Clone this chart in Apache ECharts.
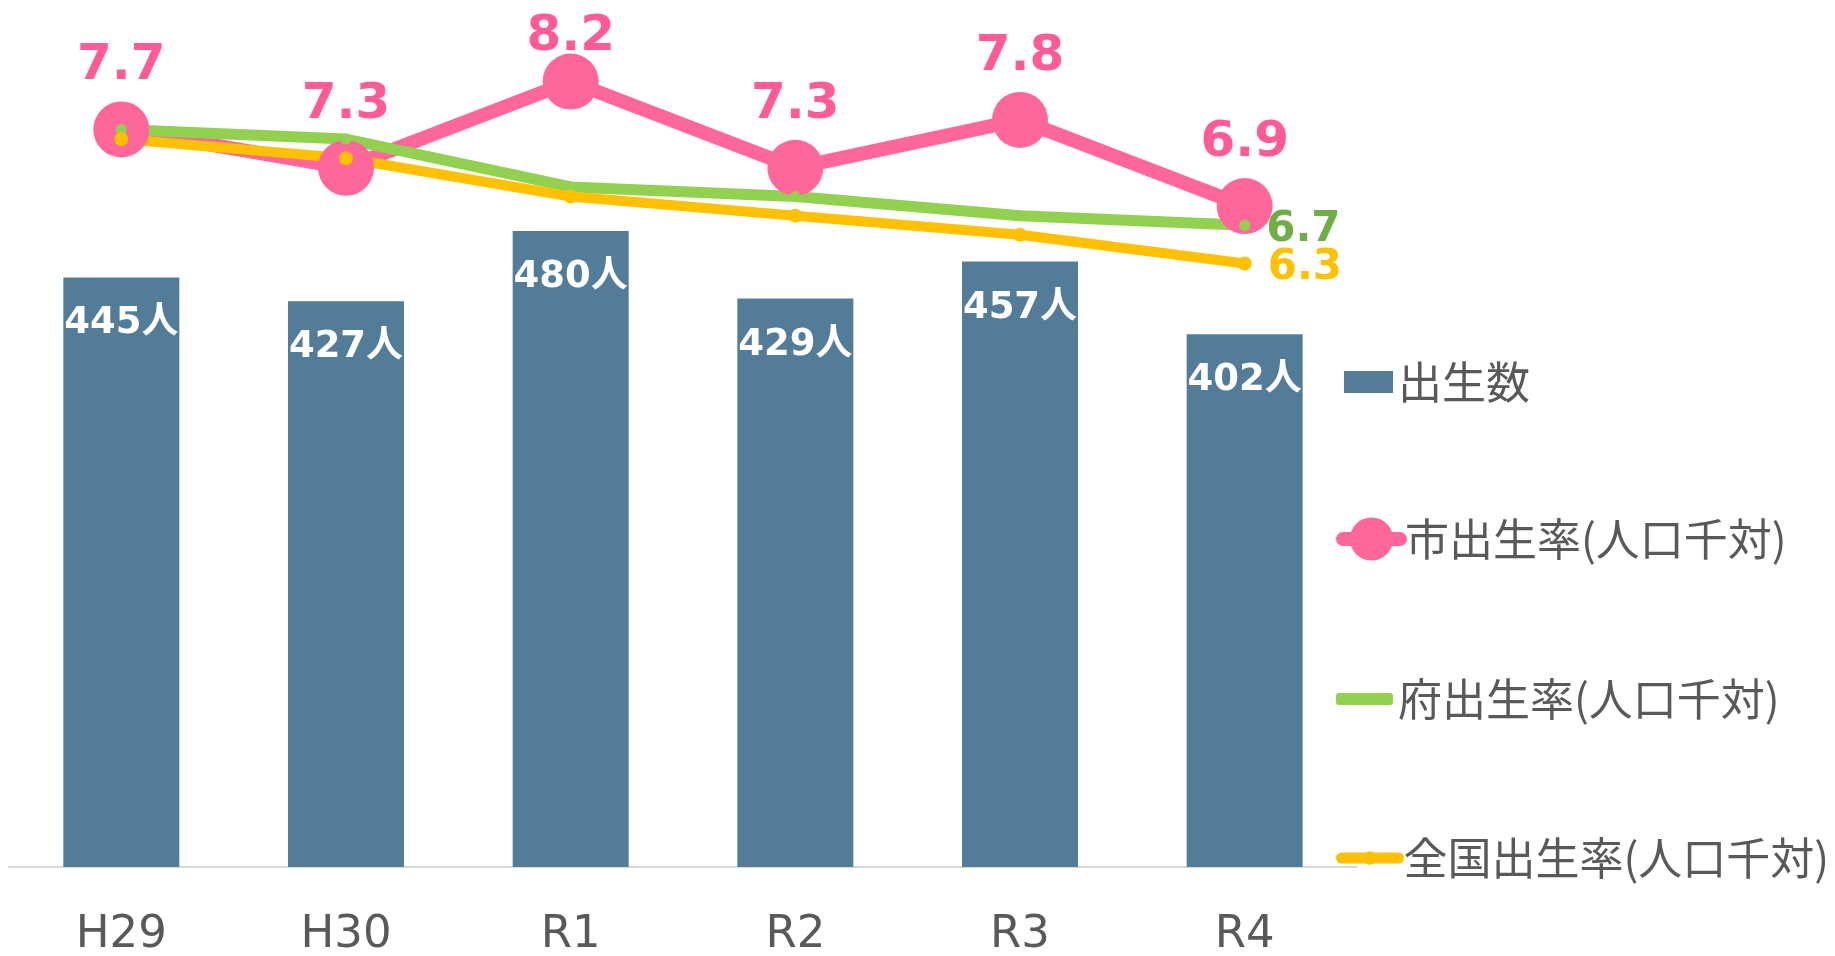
<!DOCTYPE html>
<html>
<head>
<meta charset="utf-8">
<script src="https://cdn.jsdelivr.net/npm/echarts@6/dist/echarts.min.js"></script>
<style>
  html, body { margin: 0; padding: 0; background: #fff; }
  #chart { width: 1835px; height: 956px; }
</style>
</head>
<body>
<div id="chart"></div>
<script>
  // 年度
  const years = ['H29', 'H30', 'R1', 'R2', 'R3', 'R4']
  // 出生数（人）
  const births = [445, 427, 480, 429, 457, 402]
  // 出生率（人口千対）
  const cityRate = [7.7, 7.3, 8.2, 7.3, 7.8, 6.9]
  const prefRate = [7.7, 7.6, 7.1, 7.0, 6.8, 6.7]
  const nationRate = [7.6, 7.4, 7.0, 6.8, 6.6, 6.3]

  const names = ['出生数', '市出生率(人口千対)', '府出生率(人口千対)', '全国出生率(人口千対)']
  const colors = ['#527C98', '#FF6699', '#92D050', '#FFC000']

  const numFont = 'DejaVu Sans, Verdana, Noto Sans CJK JP, sans-serif'
  const cjkFont = 'Noto Sans CJK JP, sans-serif'

  const chart = echarts.init(document.getElementById('chart'))

  // 最終年度だけラベルを出す
  const lastOnly = (arr, color) => arr.map((v, i) => i < arr.length - 1 ? v : {
    value: v,
    label: {
      show: true, position: 'right', distance: 16, offset: [0, 5],
      color: color, fontSize: 42, fontWeight: 'bold', fontFamily: numFont
    }
  })

  // 市の最大値ラベルは枠内に収める
  const cityData = cityRate.map(v => v === Math.max(...cityRate)
    ? { value: v, label: { offset: [0, 18] } }
    : v)

  // 凡例は1項目ずつ配置
  const legendBase = {
    orient: 'vertical', left: 1336, padding: 0,
    textStyle: { fontSize: 44, color: '#595959', fontFamily: cjkFont }
  }

  const option = {
    animation: false,
    color: colors,
    grid: { left: 9, width: 1348, top: 72, height: 795, outerBoundsMode: 'none' },
    legend: [
      { ...legendBase, left: 1344, top: 360, data: [{ name: names[0], icon: 'rect' }], itemWidth: 49, itemHeight: 22 },
      { ...legendBase, top: 517, data: [names[1]], itemWidth: 57, itemHeight: 54,
        lineStyle: { width: 14 } },
      { ...legendBase, top: 677, data: [{ name: names[2], icon: 'roundRect' }], itemWidth: 57, itemHeight: 12 },
      { ...legendBase, top: 836, data: [names[3]], itemWidth: 57, itemHeight: 17,
        lineStyle: { width: 11 } }
    ],
    xAxis: {
      type: 'category',
      data: years,
      axisLine: { lineStyle: { color: '#D9D9D9', width: 2 } },
      axisTick: { show: false },
      axisLabel: { margin: 46, fontSize: 45, color: '#595959', fontFamily: numFont }
    },
    yAxis: [
      { type: 'value', min: 0, max: 600, show: false },
      { type: 'value', min: 0, max: 8.3, show: false }
    ],
    series: [
      {
        name: names[0],
        type: 'bar',
        data: births,
        barWidth: 116,
        itemStyle: { color: colors[0] },
        label: {
          show: true, position: 'insideTop', distance: 28,
          formatter: '{c}人',
          color: '#fff', fontSize: 37, fontWeight: 'bold', fontFamily: numFont
        }
      },
      {
        name: names[1],
        type: 'line',
        yAxisIndex: 1,
        data: cityData,
        symbol: 'circle',
        symbolSize: 56,
        lineStyle: { width: 14, color: colors[1], cap: 'round', join: 'round' },
        itemStyle: { color: colors[1] },
        label: {
          show: true, position: 'top', distance: 10,
          formatter: p => p.value.toFixed(1),
          color: '#FF5C97', fontSize: 50, fontWeight: 'bold', fontFamily: numFont
        }
      },
      {
        name: names[2],
        type: 'line',
        yAxisIndex: 1,
        data: lastOnly(prefRate, '#70AD47'),
        symbol: 'circle',
        symbolSize: 11,
        lineStyle: { width: 11, color: colors[2], cap: 'round', join: 'round' },
        itemStyle: { color: colors[2] },
        label: { show: false, formatter: p => p.value.toFixed(1) }
      },
      {
        name: names[3],
        type: 'line',
        yAxisIndex: 1,
        data: lastOnly(nationRate, colors[3]),
        symbol: 'circle',
        symbolSize: 14,
        lineStyle: { width: 10, color: colors[3], cap: 'round', join: 'round' },
        itemStyle: { color: colors[3] },
        label: { show: false, formatter: p => p.value.toFixed(1) }
      }
    ]
  }

  chart.setOption(option)
</script>
</body>
</html>
